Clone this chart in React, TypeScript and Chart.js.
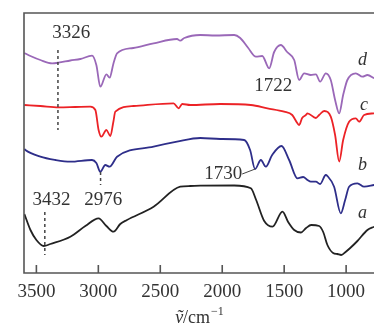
import React, { useEffect, useRef } from "react";
import { Chart, registerables } from "chart.js";

Chart.register(...registerables);

// Wavenumber ticks (cm^-1)
const tickValues = [3500, 3000, 2500, 2000, 1500, 1000];

// Spectrum a (black)
const waveA = [3597, 3548, 3500, 3441, 3387, 3226, 3105, 2998, 2935, 2877, 2823, 2769, 2554, 2339, 2258, 2177, 1903, 1769, 1726, 1661, 1594, 1514, 1468, 1419, 1365, 1323, 1282, 1218, 1185, 1151, 1105, 1070, 1040, 1002, 967, 909, 828, 774];
const transA = [59, 43, 33, 27, 29, 36.3, 47, 54.7, 47, 41.3, 49, 53, 66.3, 86.3, 87, 87.3, 87.5, 84.7, 73, 52, 46.3, 61.3, 51, 43, 40.5, 45, 48, 47, 41, 28, 20, 19, 18, 21.3, 25, 32, 43, 46.3];

// Spectrum b (navy)
const waveB = [3597, 3589, 3468, 3347, 3226, 3051, 3016, 2984, 2944, 2909, 2849, 2554, 2365, 2177, 2016, 1823, 1775, 1735, 1688, 1648, 1597, 1522, 1460, 1393, 1347, 1312, 1285, 1244, 1210, 1164, 1151, 1097, 1043, 1008, 976, 909, 855, 774];
const transB = [124, 123, 116.3, 113, 111.3, 113, 110, 101.3, 108, 106.3, 116.3, 126.3, 131.3, 135, 134, 133, 123, 104, 113, 106.3, 118, 127, 113, 94.7, 96, 93, 91.3, 91.3, 89, 98, 97, 86.3, 59.7, 73, 86.3, 89.7, 86.3, 88];

// Spectrum c (red)
const waveC = [3597, 3468, 3320, 3186, 3065, 3024, 2998, 2976, 2935, 2903, 2879, 2863, 2715, 2393, 2352, 2323, 2258, 2016, 1769, 1635, 1500, 1435, 1393, 1379, 1355, 1325, 1312, 1244, 1218, 1177, 1124, 1089, 1056, 1024, 976, 922, 895, 855, 774];
const transC = [168, 167, 165.7, 166, 166.3, 163, 143, 136.3, 143, 137, 151, 161.3, 167, 169.7, 164.7, 169, 168, 169, 168, 164.7, 161.3, 158, 149.7, 148, 155, 158, 159.7, 155, 158, 162, 156.3, 138, 111.5, 133, 151.3, 154.7, 151.3, 158, 159.7];

// Spectrum d (purple)
const waveD = [3597, 3548, 3468, 3373, 3323, 3226, 3145, 3051, 3016, 2984, 2935, 2909, 2879, 2849, 2718, 2554, 2365, 2339, 2306, 2177, 2056, 1903, 1855, 1790, 1728, 1677, 1621, 1581, 1527, 1476, 1419, 1379, 1339, 1285, 1244, 1210, 1164, 1124, 1089, 1056, 1024, 990, 922, 868, 828, 774];
const transD = [220, 217, 213, 209.7, 210.3, 212.5, 214, 217.3, 208, 186.3, 198.7, 195.3, 209, 219.7, 225, 229.7, 234, 232.3, 235, 238, 237.5, 238, 235, 225, 216.3, 217, 204.7, 221, 228, 221, 213, 193, 199.7, 198, 198.7, 191.3, 199.7, 193, 173, 159.7, 178, 193, 199.7, 196.3, 198, 194.7];

// Peak annotations: [label, wavenumber of text centre, level of text centre]
const peakLabels: [string, number, number][] = [
  ["3326", 3218, 240],
  ["3432", 3379, 73],
  ["2976", 2960, 73],
  ["1730", 1992, 99],
  ["1722", 1589, 187],
];
// Dashed markers: [wavenumber, from level, to level]
const dashMarks: [number, number, number][] = [
  [3326, 223, 143],
  [3432, 61, 18],
  [2982, 101, 88],
];
// Curve names: [name, wavenumber, level]
const curveNames: [string, number, number][] = [
  ["d", 868, 213],
  ["c", 855, 168],
  ["b", 868, 108],
  ["a", 868, 60],
];

const SERIF = "'Liberation Serif', 'Times New Roman', serif";

const pts = (w: number[], t: number[]) => w.map((v, i) => ({ x: v, y: t[i] }));

const overlay = {
  id: "overlay",
  afterDatasetsDraw(chart: any) {
    const { ctx, chartArea: a, scales } = chart;
    const xs = scales.x;
    const ys = scales.y;
    ctx.save();

    // Frame: top, left, bottom
    ctx.strokeStyle = "#555";
    ctx.lineWidth = 1.6;
    ctx.beginPath();
    ctx.moveTo(a.right, a.top);
    ctx.lineTo(a.left, a.top);
    ctx.lineTo(a.left, a.bottom);
    ctx.lineTo(a.right, a.bottom);
    // Inward tick marks
    tickValues.forEach((v) => {
      const px = xs.getPixelForValue(v);
      ctx.moveTo(px, a.bottom);
      ctx.lineTo(px, a.bottom - 8);
    });
    ctx.stroke();

    // Dashed peak markers
    ctx.strokeStyle = "#444";
    ctx.lineWidth = 1.5;
    ctx.setLineDash([3, 3]);
    dashMarks.forEach(([w, y1, y2]) => {
      const px = xs.getPixelForValue(w);
      ctx.beginPath();
      ctx.moveTo(px, ys.getPixelForValue(y1));
      ctx.lineTo(px, ys.getPixelForValue(y2));
      ctx.stroke();
    });
    ctx.setLineDash([]);

    // Leader line for 1730
    ctx.strokeStyle = "#444";
    ctx.lineWidth = 1;
    ctx.beginPath();
    ctx.moveTo(xs.getPixelForValue(1839), ys.getPixelForValue(99));
    ctx.lineTo(xs.getPixelForValue(1734), ys.getPixelForValue(104));
    ctx.stroke();

    // Peak labels
    ctx.fillStyle = "#333";
    ctx.font = `19px ${SERIF}`;
    ctx.textAlign = "center";
    ctx.textBaseline = "middle";
    peakLabels.forEach(([s, w, t]) => {
      ctx.fillText(s, xs.getPixelForValue(w), ys.getPixelForValue(t));
    });

    // Curve names
    ctx.font = `italic 18px ${SERIF}`;
    curveNames.forEach(([s, w, t]) => {
      ctx.fillText(s, xs.getPixelForValue(w), ys.getPixelForValue(t));
    });

    // Axis title: ṽ/cm⁻¹
    const cx = (a.left + a.right) / 2;
    const base = 323;
    const p1 = "\u1E7D";
    const p2 = "/cm";
    const p3 = "\u22121";
    ctx.textBaseline = "alphabetic";
    ctx.textAlign = "left";
    ctx.font = `italic 18px ${SERIF}`;
    const w1 = ctx.measureText(p1).width;
    ctx.font = `18px ${SERIF}`;
    const w2 = ctx.measureText(p2).width;
    ctx.font = `12px ${SERIF}`;
    const w3 = ctx.measureText(p3).width;
    let x0 = cx - (w1 + w2 + w3) / 2;
    ctx.font = `italic 18px ${SERIF}`;
    ctx.fillText(p1, x0, base);
    x0 += w1;
    ctx.font = `18px ${SERIF}`;
    ctx.fillText(p2, x0, base);
    x0 += w2;
    ctx.font = `12px ${SERIF}`;
    ctx.fillText(p3, x0 + 1, base - 8);

    ctx.restore();
  },
};

export default function App() {
  const ref = useRef<HTMLCanvasElement>(null);

  useEffect(() => {
    if (!ref.current) return;
    const line = (label: string, data: any[], color: string) => ({
      label,
      data,
      borderColor: color,
      borderWidth: 1.8,
      pointRadius: 0,
      cubicInterpolationMode: "monotone" as const,
      fill: false,
    });
    const chart = new Chart(ref.current, {
      type: "line",
      data: {
        datasets: [
          line("a", pts(waveA, transA), "#222222"),
          line("b", pts(waveB, transB), "#2e2e8a"),
          line("c", pts(waveC, transC), "#ec2226"),
          line("d", pts(waveD, transD), "#9a68b8"),
        ],
      },
      options: {
        responsive: false,
        animation: false,
        layout: { padding: { left: 24, top: 13, right: 0, bottom: 0 } },
        plugins: { legend: { display: false }, tooltip: { enabled: false } },
        scales: {
          x: {
            type: "linear",
            reverse: true,
            min: 775,
            max: 3600,
            grid: { display: false, drawTicks: false },
            border: { display: false },
            afterBuildTicks: (scale: any) => {
              scale.ticks = tickValues.map((v) => ({ value: v }));
            },
            afterFit: (scale: any) => {
              scale.height = 53;
            },
            ticks: {
              autoSkip: false,
              maxRotation: 0,
              padding: 8,
              color: "#333",
              font: { family: SERIF, size: 19 },
              callback: (v: any) => String(v),
            },
          },
          y: {
            display: false,
            min: 0,
            max: 260,
          },
        },
      },
      plugins: [overlay],
    });
    return () => chart.destroy();
  }, []);

  return (
    <div style={{ position: "fixed", left: 0, top: 0, width: 374, height: 326, background: "#fff" }}>
      <canvas ref={ref} width={374} height={326} />
    </div>
  );
}
